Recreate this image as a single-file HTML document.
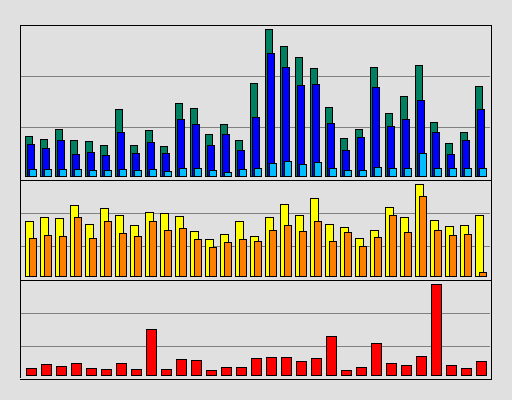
<!DOCTYPE html>
<html>
<head>
<meta charset="utf-8">
<title>Stacked bar panels</title>
<style>
html,body{margin:0;padding:0;background:#e0e0e0;}
svg{display:block;position:absolute;left:0;top:0;}
</style>
</head>
<body>
<svg id="chart" width="512" height="400" viewBox="0 0 512 400" shape-rendering="crispEdges" xmlns="http://www.w3.org/2000/svg"></svg>
<script>
const categories = ["1","2","3","4","5","6","7","8","9","10","11","12","13","14","15","16","17","18","19","20","21","22","23","24","25","26","27","28","29","30","31"];
const greenValues = [40,37,47,36,35,31,67,31,46,30,73,68,42,52,36,93,147,130,119,108,69,38,47,109,63,80,111,54,33,44,90];
const blueValues = [32,28,36,22,24,21,44,23,34,23,57,52,31,42,26,59,123,109,91,92,53,26,39,89,50,57,76,44,22,36,67];
const cyanValues = [7,7,7,7,6,6,7,6,7,5,8,8,6,4,7,8,13,15,12,14,8,6,6,9,8,8,23,8,8,8,8];
const yellowValues = [55,59,58,71,52,68,61,51,64,63,60,45,37,42,55,40,59,72,61,78,52,49,38,46,69,59,92,56,50,51,61];
const orangeValues = [38,41,40,59,38,55,43,40,55,46,48,37,29,34,37,35,46,51,45,55,35,44,30,39,61,44,80,46,41,42,4];
const redValues = [7,11,9,12,7,6,12,6,46,6,16,15,5,8,8,17,18,18,14,17,39,5,8,32,12,10,19,91,10,7,14];
const topTicks = [49,100];
const middleTicks = [30,63];
const bottomTicks = [29,62];

const svg = document.getElementById('chart');
const NS = 'http://www.w3.org/2000/svg';
const xBand = i => 25 + 15 * i;
const yTop = v => 176 - v;
const yMiddle = v => 276 - v;
const yBottom = v => 375 - v;

function drawBar(x, w, y, base, fill) {
  const r = document.createElementNS(NS, 'rect');
  r.setAttribute('x', x + 0.5);
  r.setAttribute('y', y + 0.5);
  r.setAttribute('width', w);
  r.setAttribute('height', base - y);
  r.setAttribute('fill', fill);
  r.setAttribute('stroke', '#000');
  r.setAttribute('stroke-width', '1');
  return r;
}
function drawLine(x1, y1, x2, y2, color) {
  const l = document.createElementNS(NS, 'line');
  l.setAttribute('x1', x1);
  l.setAttribute('y1', y1);
  l.setAttribute('x2', x2);
  l.setAttribute('y2', y2);
  l.setAttribute('stroke', color);
  l.setAttribute('stroke-width', '1');
  return l;
}

topTicks.forEach(t => {
  const l = drawLine(21, yTop(t) + 0.5, 490, yTop(t) + 0.5, '#808080');
  
  
  svg.appendChild(l);
});
middleTicks.forEach(t => {
  const l = drawLine(21, yMiddle(t) + 0.5, 490, yMiddle(t) + 0.5, '#808080');
  
  
  svg.appendChild(l);
});
bottomTicks.forEach(t => {
  const l = drawLine(21, yBottom(t) + 0.5, 490, yBottom(t) + 0.5, '#808080');
  
  
  svg.appendChild(l);
});

categories.forEach((c, i) => {
  const x = xBand(i);

  const green = drawBar(x, 7, yTop(greenValues[i]), 176, '#008060');
  
  
  svg.appendChild(green);

  const blue = drawBar(x + 2, 7, yTop(blueValues[i]), 176, '#0000ff');
  
  
  svg.appendChild(blue);

  const cyan = drawBar(x + 4, 7, yTop(cyanValues[i]), 176, '#00bfff');
  
  
  svg.appendChild(cyan);

  const yellow = drawBar(x, 8, yMiddle(yellowValues[i]), 276, '#ffff00');
  
  
  svg.appendChild(yellow);

  const orange = drawBar(x + 4, 7, yMiddle(orangeValues[i]), 276, '#ff8000');
  
  
  svg.appendChild(orange);

  const red = drawBar(x + 1, 10, yBottom(redValues[i]), 375, '#ff0000');
  
  
  svg.appendChild(red);
});

const frameTop = drawLine(20, 25.5, 492, 25.5, '#000');


svg.appendChild(frameTop);

const dividerUpper = drawLine(20, 180.5, 492, 180.5, '#000');


svg.appendChild(dividerUpper);

const dividerLower = drawLine(20, 280.5, 492, 280.5, '#000');


svg.appendChild(dividerLower);

const frameBottom = drawLine(20, 379.5, 492, 379.5, '#000');


svg.appendChild(frameBottom);

const frameLeft = drawLine(20.5, 25, 20.5, 378, '#000');


svg.appendChild(frameLeft);

const frameRight = drawLine(491.5, 25, 491.5, 380, '#000');


svg.appendChild(frameRight);
</script>
</body>
</html>
